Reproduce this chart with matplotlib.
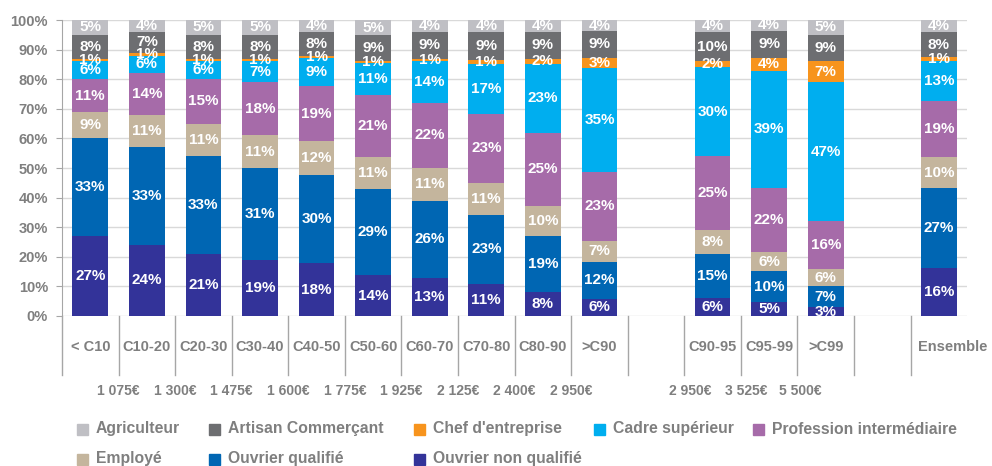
import numpy as np
import matplotlib
matplotlib.use("Agg")
import matplotlib.pyplot as plt
from matplotlib.patches import Rectangle
from matplotlib.transforms import blended_transform_factory

plt.rcParams["font.family"] = ["Liberation Sans", "DejaVu Sans"]
plt.rcParams["font.weight"] = "bold"

categories = ["< C10", "C10-20", "C20-30", "C30-40", "C40-50", "C50-60", "C60-70",
              "C70-80", "C80-90", ">C90", "C90-95", "C95-99", ">C99", "Ensemble"]
slots = [0, 1, 2, 3, 4, 5, 6, 7, 8, 9, 11, 12, 13, 15]

# seuils de revenu (bornes entre deciles)
thresholds = ["1 075€", "1 300€", "1 475€", "1 600€", "1 775€", "1 925€",
              "2 125€", "2 400€", "2 950€", "2 950€", "3 525€", "5 500€"]
threshold_pos = [0.5, 1.5, 2.5, 3.5, 4.5, 5.5, 6.5, 7.5, 8.5, 10.6, 11.6, 12.55]

# parts en %, du bas vers le haut
ouvrier_nq = [27, 24, 21, 19, 17.9, 13.8, 13, 10.9, 8, 5.9, 6, 4.7, 3, 16.2]
ouvrier_q = [33, 33, 33, 31, 29.6, 29.0, 26, 23.2, 19, 12.4, 15, 10.4, 7, 27.0]
employe = [9, 11, 11, 11, 11.6, 11.0, 11, 11.0, 10, 7.1, 8, 6.4, 6, 10.4]
prof_inter = [11, 14, 15, 18, 18.6, 20.8, 22, 23.1, 25, 23.3, 25, 21.9, 16, 19.0]
cadre = [6, 6, 6, 7, 9.4, 10.9, 14, 16.9, 23, 35.2, 30, 39.4, 47, 13.4]
chef = [1, 1, 1, 1, 0.8, 0.6, 1, 1.4, 2, 3.4, 2, 4.4, 7, 1.4]
artisan = [8, 7, 8, 8, 8.1, 8.8, 9, 9.4, 9, 8.9, 10, 9.2, 9, 8.4]
agriculteur = [5, 4, 5, 5, 4.0, 5.1, 4, 4.1, 4, 3.8, 4, 3.6, 5, 4.2]

series = [
    ("Ouvrier non qualifié", ouvrier_nq, "#333399"),
    ("Ouvrier qualifié", ouvrier_q, "#0066b3"),
    ("Employé", employe, "#c4b59d"),
    ("Profession intermédiaire", prof_inter, "#a66ba9"),
    ("Cadre supérieur", cadre, "#00aeef"),
    ("Chef d'entreprise", chef, "#f7941d"),
    ("Artisan Commerçant", artisan, "#6d6e71"),
    ("Agriculteur", agriculteur, "#bfbfc4"),
]

grey = "#7f7f7f"
W, H = 992, 466

fig = plt.figure(figsize=(W / 100, H / 100), dpi=100)
ax = fig.add_axes([0.0625, 0.3219, 0.9125, 0.6351])

bottom = np.zeros(len(slots))
colors = {}
for name, vals, col in series:
    vals = np.array(vals, dtype=float)
    bars = ax.bar(slots, vals, bottom=bottom, width=0.63, color=col, zorder=2)
    ax.bar_label(bars, labels=[f"{round(v):.0f}%" for v in vals], label_type="center",
                 color="white", fontsize=11, fontweight="bold")
    colors[name] = col
    bottom += vals

ax.set_xlim(-0.5, 15.5)
ax.set_ylim(0, 100)
ax.set_yticks(np.arange(0, 101, 10))
ax.set_yticklabels([f"{t}%" for t in range(0, 101, 10)])
ax.yaxis.grid(True, color="#d9d9d9", linewidth=1, zorder=0)
ax.tick_params(axis="y", length=4, color="#a6a6a6", pad=6, labelsize=10.5,
               labelcolor=grey)
ax.set_xticks([])
for s in ["top", "right", "bottom"]:
    ax.spines[s].set_visible(False)
ax.spines["left"].set_color("#a6a6a6")

trans = blended_transform_factory(ax.transData, ax.transAxes)
for b in np.arange(-0.5, 15.0, 1.0):
    ax.plot([b, b], [0, -0.2], transform=trans, color="#a6a6a6", lw=1, clip_on=False)
for s, c in zip(slots, categories):
    xs = s + 0.25 if c == "Ensemble" else s
    ax.text(xs, -0.105, c, transform=trans, ha="center", va="center",
            fontsize=10.5, color=grey, fontweight="bold")
for p, t in zip(threshold_pos, thresholds):
    ax.text(p, -0.253, t, transform=trans, ha="center", va="center",
            fontsize=10, color=grey, fontweight="bold")

# legende placee a la main (colonnes irregulieres comme dans l'original)
legend_items = [
    ("Agriculteur", 77, 429), ("Artisan Commerçant", 209, 429),
    ("Chef d'entreprise", 414, 429), ("Cadre supérieur", 594, 429),
    ("Profession intermédiaire", 753, 429),
    ("Employé", 77, 459), ("Ouvrier qualifié", 209, 459),
    ("Ouvrier non qualifié", 414, 459),
]
sq = 11
for name, px, py in legend_items:
    fig.patches.append(Rectangle((px / W, (H - py - sq / 2) / H), sq / W, sq / H,
                                 transform=fig.transFigure, color=colors[name]))
    fig.text((px + sq + 8) / W, (H - py) / H, name, ha="left", va="center",
             fontsize=11.3, color=grey, fontweight="bold")

fig.savefig("out.png", dpi=100)
